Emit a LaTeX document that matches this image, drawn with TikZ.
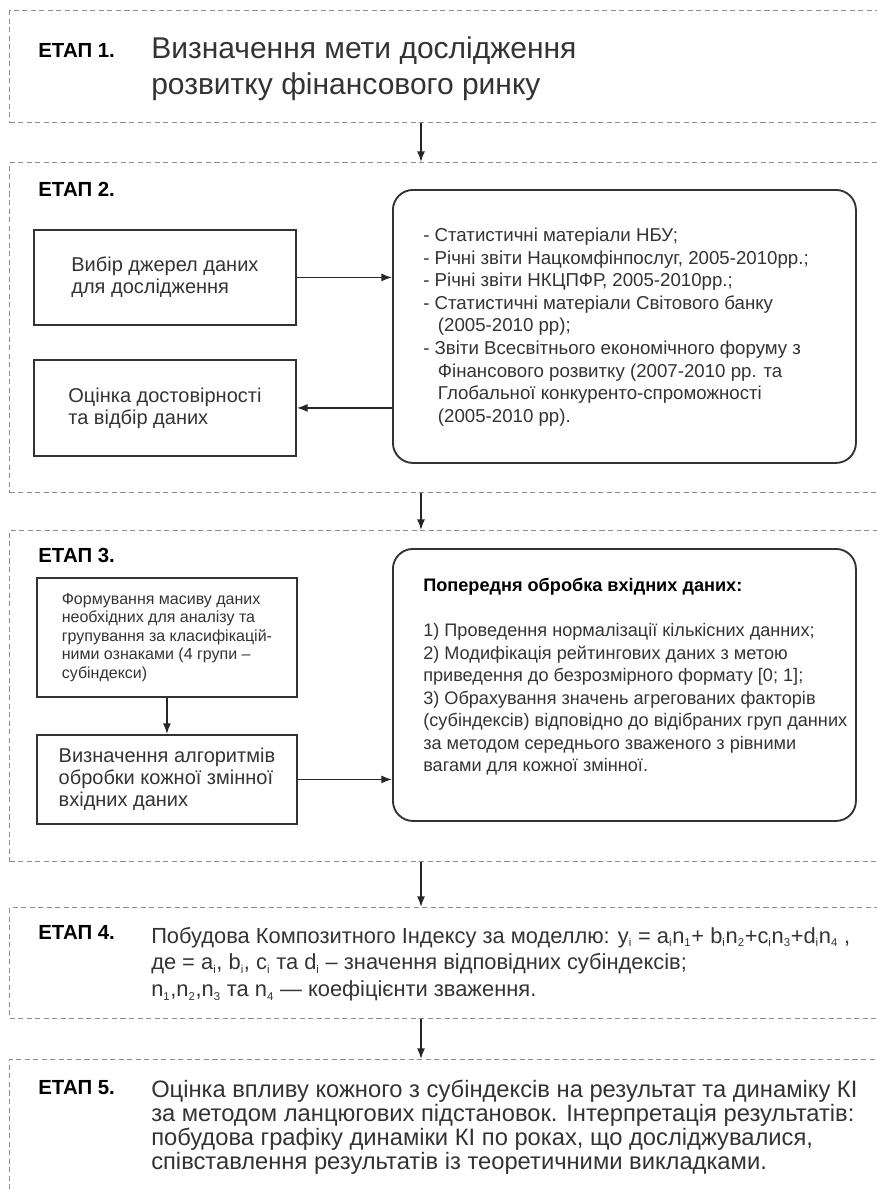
\documentclass[tikz,border=0pt]{standalone}
\usepackage{fontspec}
\setmainfont{Liberation Sans}
\usetikzlibrary{arrows.meta}
\newcommand{\sbx}[1]{\textsubscript{\fontsize{8.5}{8.5}\selectfont#1}}

\begin{document}
\begin{tikzpicture}[x=0.75pt,y=-0.75pt,>={Latex[length=8pt,width=6pt]},
  frame/.style={draw=black!45,dash pattern=on 3.8pt off 2.6pt,line width=0.75pt,anchor=north west,inner sep=0pt,minimum width=675pt},
  box/.style={draw=black!80,line width=1.4pt,anchor=north west,align=left,text=black!80,font=\fontsize{15}{16.5}\selectfont},
  rbox/.style={box,rounded corners=15pt},
  etap/.style={anchor=base west,inner sep=0pt,font=\bfseries\fontsize{15.3}{17}\selectfont},
  body/.style={anchor=north west,inner sep=0pt,align=left,text=black!80},
  link/.style={->,line width=1.1pt,draw=black!85}]
\useasboundingbox (0,0) rectangle (877,1193);
\clip (0,0) rectangle (877,1193);
\node[frame,minimum height=84pt] (f1) at (9,10) {};
\node[frame,minimum height=247.5pt] (f2) at (9,162) {};
\node[frame,minimum height=248.25pt] (f3) at (9,530) {};
\node[frame,minimum height=83.25pt] (f4) at (9,907) {};
\node[frame,minimum height=150pt] (f5) at (9,1059) {};
\coordinate (ax) at (421,0);
\node[etap] (e1) at (38,57) {ЕТАП 1.};
\node[etap] (e2) at (38,196) {ЕТАП 2.};
\node[etap] (e3) at (38,562) {ЕТАП 3.};
\node[etap] (e4) at (38,939) {ЕТАП 4.};
\node[etap] (e5) at (38,1094) {ЕТАП 5.};
\node[body,font=\fontsize{22.5}{27}\selectfont] (t1) at (151,36) {Визначення мети дослідження\\розвитку фінансового ринку};
\node[box,minimum width=196.5pt,minimum height=71.25pt] (src) at (33,229) {Вибір джерел даних\\для дослідження};
\node[box,minimum width=196.5pt,minimum height=72pt] (sel) at (33,359) {Оцінка достовірності\\та відбір даних};
\node[rbox,minimum width=347.25pt,minimum height=204.75pt] (rb1) at (392,189) {};
\node[body,font=\fontsize{14}{16.9}\selectfont] (t2) at (423,228) {- Статистичні матеріали НБУ;\\- Річні звіти Нацкомфінпослуг, 2005-2010рр.;\\- Річні звіти НКЦПФР, 2005-2010рр.;\\- Статистичні матеріали Світового банку\\\hspace*{11pt}(2005-2010 рр);\\- Звіти Всесвітнього економічного форуму з\\\hspace*{11pt}Фінансового розвитку (2007-2010 рр. та\\\hspace*{11pt}Глобальної конкуренто-спроможності\\\hspace*{11pt}(2005-2010 рр).};
\node[box,minimum width=195pt,minimum height=89.25pt,font=\fontsize{12}{13.9}\selectfont] (form) at (36,577) {Формування масиву даних\\необхідних для аналізу та\\групування за класифікацій-\\ними ознаками (4 групи –\\субіндекси)};
\node[box,minimum width=195pt,minimum height=66.75pt] (alg) at (36,734) {Визначення алгоритмів\\обробки кожної змінної\\вхідних даних};
\node[rbox,minimum width=347.25pt,minimum height=204pt] (rb2) at (392,548) {};
\node[body,font=\fontsize{13.6}{16.9}\selectfont] (t3) at (423,578) {\textbf{\color{black}Попередня обробка вхідних даних:}\\[17pt]1) Проведення нормалізації кількісних данних;\\2) Модифікація рейтингових даних з метою\\приведення до безрозмірного формату [0; 1];\\3) Обрахування значень агрегованих факторів\\(субіндексів) відповідно до відібраних груп данних\\за методом середнього зваженого з рівними\\вагами для кожної змінної.};
\node[body,font=\fontsize{16.4}{20}\selectfont] (t4) at (151,927) {Побудова Композитного Індексу за моделлю: y\sbx{i} = a\sbx{i}n\sbx{1}+ b\sbx{i}n\sbx{2}+c\sbx{i}n\sbx{3}+d\sbx{i}n\sbx{4} ,\\де = a\sbx{i}, b\sbx{i}, c\sbx{i} та d\sbx{i} – значення відповідних субіндексів;\\n\sbx{1},n\sbx{2},n\sbx{3} та n\sbx{4} — коефіцієнти зваження.};
\node[body,font=\fontsize{17.8}{18}\selectfont] (t5) at (151,1080) {Оцінка впливу кожного з субіндексів на результат та динаміку КІ\\за методом ланцюгових підстановок. Інтерпретація результатів:\\побудова графіку динаміки КІ по роках, що досліджувалися,\\співставлення результатів із теоретичними викладками.};
\draw[link] (f1.south -| ax) -- (f2.north -| ax);
\draw[link] (f2.south -| ax) -- (f3.north -| ax);
\draw[link] (f3.south -| ax) -- (f4.north -| ax);
\draw[link] (f4.south -| ax) -- (f5.north -| ax);
\draw[link] (src.east) -- (src.east -| rb1.west);
\draw[link] (sel.east -| rb1.west) -- (sel.east);
\draw[link] (form.south) -- (alg.north);
\draw[link] (alg.east) -- (alg.east -| rb2.west);
\end{tikzpicture}
\end{document}
